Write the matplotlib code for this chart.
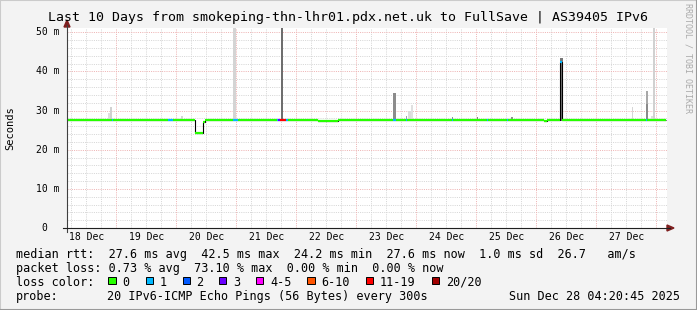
import numpy as np
import matplotlib
matplotlib.use('Agg')
import matplotlib.pyplot as plt
from matplotlib.patches import Rectangle, Polygon
from matplotlib.lines import Line2D

W, H = 697, 310
MONO = 'DejaVu Sans Mono'

title = 'Last 10 Days from smokeping-thn-lhr01.pdx.net.uk to FullSave | AS39405 IPv6'

# x axis is hours since Sun Dec 18 04:20:45 (10 days = 240 h)
first_midnight = 19 + 39.25 / 60
day_labels = ['18 Dec', '19 Dec', '20 Dec', '21 Dec', '22 Dec',
              '23 Dec', '24 Dec', '25 Dec', '26 Dec', '27 Dec']

y_ticks = [0, 10, 20, 30, 40, 50]
y_labels = ['0', '10 m', '20 m', '30 m', '40 m', '50 m']

# median rtt as steps: start hour, value (ms), loss class
med_start = [0.0, 17.9, 18.5, 40.4, 42.4, 51.2, 54.2, 55.2, 66.4, 68.4,
             78.5, 80.5, 82.5, 83.1, 83.9, 84.4, 85.2, 87.6, 88.4, 90.5,
             93.2, 100.4, 108.4, 130.4, 131.6, 135.6, 136.0, 153.9, 154.4, 167.9,
             168.4, 175.9, 176.3, 190.8, 192.0, 197.3, 198.1, 217.9, 219.2, 231.6,
             232.0, 234.4, 237.2]
med_ms = [27.7, 27.7, 27.7, 27.5, 27.7, 24.3, 27.1, 27.7, 27.6, 27.7,
          27.5, 27.7, 27.5, 27.7, 27.6, 27.7, 27.7, 27.7, 27.7, 27.5,
          27.7, 27.4, 27.7, 27.7, 27.7, 27.7, 27.7, 27.7, 27.7, 27.7,
          27.7, 27.7, 27.7, 27.4, 27.7, 42.5, 27.7, 27.5, 27.7, 27.7,
          27.7, 27.5, 27.7]
med_loss = [0, 1, 0, 1, 0, 0, 0, 0, 1, 0,
            0, 0, 0, 0, 1, 3, 6, 1, 0, 0,
            0, 0, 0, 1, 0, 1, 0, 1, 0, 1,
            0, 1, 0, 0, 0, 1, 0, 0, 0, 1,
            0, 0, 0]
med_end = 239.6

# smoke (ping spread) columns: start hour, width (h), top (ms), grey level
smoke_start = [16.4, 17.2, 45.6, 66.3, 85.5, 130.5, 135.6, 136.4, 137.6, 153.8,
               163.8, 177.7, 197.1, 225.8, 231.5, 231.5, 233.6, 234.3]
smoke_width = [0.8, 0.8, 0.6, 1.3, 1.0, 1.1, 0.4, 1.2, 0.8, 0.6,
               0.6, 0.6, 1.2, 0.7, 0.8, 0.8, 1.6, 1.0]
smoke_top = [29.5, 30.9, 28.7, 52.0, 52.0, 34.4, 28.6, 29.8, 31.3, 28.4,
             28.4, 28.3, 43.5, 30.9, 35.0, 31.6, 28.7, 52.0]
smoke_grey = [0.87, 0.82, 0.84, 0.83, 0.43, 0.55, 0.63, 0.86, 0.88, 0.56,
              0.50, 0.56, 0.47, 0.84, 0.66, 0.54, 0.87, 0.82]

loss_names = ['0', '1', '2', '3', '4-5', '6-10', '11-19', '20/20']
loss_colors = ['#26ff00', '#00b8ff', '#0059ff', '#6a00ff',
               '#ff00ff', '#ff5500', '#ff0000', '#a10000']

rtt_stats = ['27.6 ms avg', '42.5 ms max', '24.2 ms min', '27.6 ms now', '1.0 ms sd', '26.7   am/s']
loss_stats = ['0.73 % avg', '73.10 % max', '0.00 % min', '0.00 % now']
probe_text = '20 IPv6-ICMP Echo Pings (56 Bytes) every 300s'
stamp = 'Sun Dec 28 04:20:45 2025'


def fx(px):
    return px / W


def fy(py):
    return 1 - py / H


fig = plt.figure(figsize=(W / 100, H / 100), dpi=100, facecolor='#f3f3f3')
ax = fig.add_axes([fx(67), fy(228), 600 / W, 200 / H])
ax.set_facecolor('white')
ax.set_xlim(0, 240)
ax.set_ylim(0, 200 / 3.914)
for s in ax.spines.values():
    s.set_visible(False)
ax.set_xticks([])
ax.set_yticks([])

# grid: minor grey dots, major red dots
dots = (0, (1, 1.2))
for v in np.arange(2, 52, 2):
    if v % 10:
        ax.axhline(v, color='#d6d6d6', lw=0.72, ls=dots, zorder=0)
for h in np.arange(first_midnight % 6, 240, 6):
    if abs((h - first_midnight) % 24) > 0.01:
        ax.axvline(h, color='#d6d6d6', lw=0.72, ls=dots, zorder=0)
for v in y_ticks[1:]:
    ax.axhline(v, color='#eeb4b4', lw=0.72, ls=dots, zorder=0.5)
for h in np.arange(first_midnight, 240, 24):
    ax.axvline(h, color='#eeb4b4', lw=0.72, ls=dots, zorder=0.5)

# smoke
smoke_start = np.array(smoke_start)
base = 27.4
ax.bar(smoke_start, np.array(smoke_top) - base, bottom=base, width=smoke_width,
       align='edge', color=[str(g) for g in smoke_grey], lw=0, zorder=1)

# median line: thin black steps, then loss coloured segments
edges = np.array(med_start + [med_end])
ax.stairs(med_ms, edges, baseline=None, color='black', lw=0.8, zorder=2)
ax.hlines(med_ms, edges[:-1], edges[1:], colors=[loss_colors[l] for l in med_loss],
          lw=1.6, zorder=3)

# axis lines and arrows
arrow = '#7f1f1f'
fig.add_artist(Line2D([fx(67), fx(67)], [fy(232), fy(25)], color='#404040', lw=0.8))
fig.add_artist(Line2D([fx(63), fx(670)], [fy(228), fy(228)], color='#202020', lw=0.8))
fig.add_artist(Polygon([(fx(67), fy(20)), (fx(64), fy(27)), (fx(70), fy(27))], closed=True,
                       color=arrow, transform=fig.transFigure))
fig.add_artist(Polygon([(fx(674), fy(228)), (fx(667), fy(225)), (fx(667), fy(231))], closed=True,
                       color=arrow, transform=fig.transFigure))

# tick labels
ytr = ax.get_yaxis_transform()
for v, lab in zip(y_ticks, y_labels):
    off = -7 if ' ' in lab else -20
    ax.text(off / 600, v, lab, transform=ytr, ha='right', va='center',
            fontsize=7, family=MONO)
xtr = ax.get_xaxis_transform()
for i, lab in enumerate(day_labels):
    noon = first_midnight - 12 + 24 * i
    ax.text(noon, -9.3 / 200, lab, transform=xtr, ha='center', va='center',
            fontsize=7, family=MONO)

fig.text(fx(348.5), fy(18), title, ha='center', va='center', fontsize=9.5, family=MONO)
fig.text(fx(10), fy(128), 'Seconds', rotation=90, ha='center', va='center',
         fontsize=7.5, family=MONO)
fig.text(fx(688), fy(58), 'RRDTOOL / TOBI OETIKER', rotation=270, ha='center', va='center',
         fontsize=6, family=MONO, color='#aaaaaa')

# legend
fs = 8.5
row1 = 'median rtt:  ' + '  '.join(rtt_stats)
row2 = 'packet loss: ' + '  '.join(loss_stats)
fig.text(fx(16), fy(254.5), row1, ha='left', va='center', fontsize=fs, family=MONO)
fig.text(fx(16), fy(268.3), row2, ha='left', va='center', fontsize=fs, family=MONO)
fig.text(fx(16), fy(282.3), 'loss color:', ha='left', va='center', fontsize=fs, family=MONO)
box_x = [108.3, 145.7, 182.5, 219, 256, 307.3, 366, 431.7]
for bx, name, col in zip(box_x, loss_names, loss_colors):
    fig.add_artist(Rectangle((fx(bx), fy(284)), 7.3 / W, 7.3 / H, transform=fig.transFigure,
                             facecolor=col, edgecolor='black', lw=0.7))
    fig.text(fx(bx + 14), fy(282.3), name, ha='left', va='center', fontsize=fs, family=MONO)
fig.text(fx(16), fy(296.3), 'probe:', ha='left', va='center', fontsize=fs, family=MONO)
fig.text(fx(107.3), fy(296.3), probe_text, ha='left', va='center', fontsize=fs, family=MONO)
fig.text(fx(680), fy(296.3), stamp, ha='right', va='center', fontsize=fs, family=MONO)

# 3d-ish frame
fig.add_artist(Line2D([0, 0, 1], [0, 1, 1], color='#cbcbcb', lw=1.5))
fig.add_artist(Line2D([0, 1, 1], [0, 0, 1], color='#999999', lw=1.5))

fig.savefig('out.png', dpi=100, facecolor=fig.get_facecolor())
